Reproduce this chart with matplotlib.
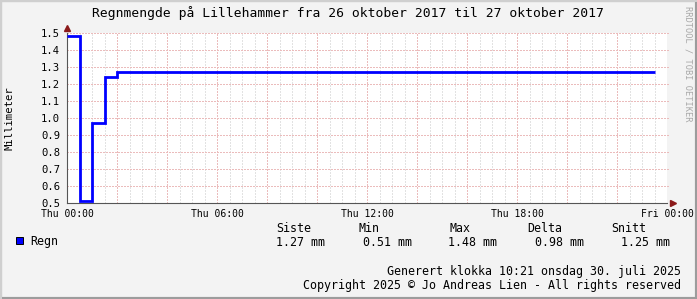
import numpy as np
import matplotlib.pyplot as plt
from matplotlib.patches import Rectangle

# rain gauge readings, 30 minute steps from Thu 00:00
hours = np.arange(48) * 0.5
regn = [1.48, 0.51, 0.97, 1.24, 1.27, 1.27, 1.27, 1.27, 1.27, 1.27,
        1.27, 1.27, 1.27, 1.27, 1.27, 1.27, 1.27, 1.27, 1.27, 1.27,
        1.27, 1.27, 1.27, 1.27, 1.27, 1.27, 1.27, 1.27, 1.27, 1.27,
        1.27, 1.27, 1.27, 1.27, 1.27, 1.27, 1.27, 1.27, 1.27, 1.27,
        1.27, 1.27, 1.27, 1.27, 1.27, 1.27, 1.27]
x_ticks = [0, 6, 12, 18, 24]
x_labels = ['Thu 00:00', 'Thu 06:00', 'Thu 12:00', 'Thu 18:00', 'Fri 00:00']
y_ticks = [0.5, 0.6, 0.7, 0.8, 0.9, 1.0, 1.1, 1.2, 1.3, 1.4, 1.5]
stat_names = ['Siste', 'Min', 'Max', 'Delta', 'Snitt']
stat_values = ['1.27 mm', '0.51 mm', '1.48 mm', '0.98 mm', '1.25 mm']

plt.rcParams['font.family'] = 'DejaVu Sans Mono'
W, H = 697, 299
fig = plt.figure(figsize=(W / 100, H / 100), dpi=100, facecolor='#f3f3f3')

def fx(px):
    return px / W

def fy(py):
    return 1 - py / H

# frame around the canvas
fig.patches.append(Rectangle((0, 0), 1, 1, transform=fig.transFigure,
                             fill=False, edgecolor='#9c9c9c', lw=3))
fig.patches.append(Rectangle((0, 0), fx(2), 1, transform=fig.transFigure,
                             color='#cfcfcf', lw=0))
fig.patches.append(Rectangle((0, 1 - 2 / H), 1, 2 / H, transform=fig.transFigure,
                             color='#cfcfcf', lw=0))

ax = fig.add_axes([fx(67), fy(203), fx(600), 170 / H])
ax.set_facecolor('white')
ax.set_xlim(0, 24)
ax.set_ylim(0.5, 1.5)

dots = (0, (1.4, 1.4))
for h in np.arange(0.5, 24, 0.5):
    if h % 2 == 0:
        continue
    ax.axvline(h, color='#e2e2e2', lw=0.72, ls=dots, zorder=0, antialiased=False)
for h in np.arange(2, 24, 2):
    ax.axvline(h, color='#ebbcbc', lw=0.72, ls=dots, zorder=1, antialiased=False)
for y in y_ticks[1:]:
    ax.plot([0, 24.1], [y, y], color='#ebbcbc', lw=0.72, ls=dots, zorder=1,
            clip_on=False, antialiased=False)

ax.stairs(regn, hours, color='#0000ff', lw=2.0, baseline=None, zorder=3, clip_on=False)

for s in ['top', 'right']:
    ax.spines[s].set_visible(False)
for s in ['left', 'bottom']:
    ax.spines[s].set_color('#555555')
    ax.spines[s].set_linewidth(0.8)
ax.plot([1.01], [0], marker='>', color='#8b1a1a', ms=4.5, transform=ax.transAxes, clip_on=False)
ax.plot([0], [1.03], marker='^', color='#8b1a1a', ms=4.5, transform=ax.transAxes, clip_on=False)

ax.set_xticks(x_ticks)
ax.set_xticklabels(x_labels, fontsize=7)
ax.set_yticks(y_ticks)
ax.set_yticklabels([f'{v:.1f}' for v in y_ticks], fontsize=7.6)
ax.tick_params(axis='x', length=0, pad=4)
ax.tick_params(axis='y', length=0, pad=5)
fig.text(fx(10), fy(118), 'Millimeter', rotation=90, ha='center', va='center', fontsize=7.6)

fig.text(fx(348), fy(13), 'Regnmengde på Lillehammer fra 26 oktober 2017 til 27 oktober 2017',
         ha='center', va='center', fontsize=9.4)
fig.text(fx(688), fy(6), 'RRDTOOL / TOBI OETIKER', rotation=270, ha='center', va='top',
         fontsize=6.2, color='#a8a8a8')

# legend block
fig.patches.append(Rectangle((fx(16), fy(244)), fx(7), 7 / H, transform=fig.transFigure,
                             facecolor='#0000ff', edgecolor='black', lw=0.7))
fig.text(fx(30), fy(242), 'Regn', ha='left', va='center', fontsize=8.4)
name_x = [276, 359, 450, 527, 611]
val_x = [276, 363, 448, 535, 621]
for nx, vx, n, v in zip(name_x, val_x, stat_names, stat_values):
    fig.text(fx(nx), fy(228), n, ha='left', va='center', fontsize=8.4)
    fig.text(fx(vx), fy(243), v, ha='left', va='center', fontsize=8.4)

fig.text(fx(681), fy(271), 'Generert klokka 10:21 onsdag 30. juli 2025',
         ha='right', va='center', fontsize=8.4)
fig.text(fx(681), fy(285), 'Copyright 2025 © Jo Andreas Lien - All rights reserved',
         ha='right', va='center', fontsize=8.4)

fig.savefig('out.png', dpi=100, facecolor=fig.get_facecolor())
